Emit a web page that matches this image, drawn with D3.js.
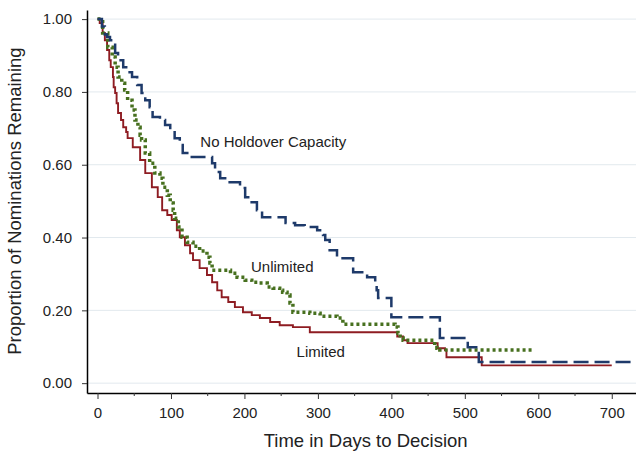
<!DOCTYPE html>
<html>
<head>
<meta charset="utf-8">
<script src="https://cdn.jsdelivr.net/npm/d3@7"></script>
<style>
  body { margin: 0; background: #fff; }
  svg { display: block; font-family: "Liberation Sans", Arial, sans-serif; }
</style>
</head>
<body>
<div id="chart"></div>
<script>
// Kaplan-Meier style curves (days, proportion remaining)
var limitedDays = [0, 3, 7, 10, 13, 16, 18, 21, 22, 24, 26, 28, 32, 35, 39, 41, 48, 58, 65, 74, 82, 88, 95, 101, 108, 112, 119, 126, 130, 139, 149, 156, 163, 169, 178, 187, 198, 210, 221, 235, 248, 266, 289, 408, 416, 422, 463, 473, 475, 523, 700];
var limitedSurv = [1.0, 0.989, 0.962, 0.942, 0.915, 0.887, 0.868, 0.841, 0.813, 0.797, 0.769, 0.742, 0.723, 0.703, 0.690, 0.673, 0.648, 0.613, 0.577, 0.538, 0.511, 0.475, 0.462, 0.448, 0.420, 0.401, 0.379, 0.357, 0.338, 0.316, 0.297, 0.277, 0.255, 0.236, 0.223, 0.209, 0.195, 0.187, 0.179, 0.168, 0.159, 0.154, 0.140, 0.128, 0.118, 0.110, 0.096, 0.091, 0.071, 0.049, 0.049];

var unlimitedDays = [0, 7, 14, 20, 24, 28, 33, 37, 41, 47, 51, 55, 58, 60, 65, 71, 78, 85, 89, 95, 99, 103, 105, 110, 115, 122, 130, 139, 149, 153, 156, 181, 190, 201, 210, 218, 231, 239, 248, 252, 258, 262, 266, 289, 303, 326, 334, 405, 409, 412, 416, 459, 462, 466, 593];
var unlimitedSurv = [1.0, 0.962, 0.923, 0.896, 0.868, 0.841, 0.824, 0.805, 0.777, 0.750, 0.723, 0.703, 0.681, 0.668, 0.632, 0.604, 0.577, 0.563, 0.538, 0.516, 0.495, 0.475, 0.453, 0.429, 0.401, 0.387, 0.376, 0.363, 0.346, 0.330, 0.310, 0.302, 0.291, 0.283, 0.277, 0.275, 0.264, 0.261, 0.255, 0.250, 0.242, 0.220, 0.195, 0.192, 0.184, 0.179, 0.162, 0.154, 0.137, 0.124, 0.118, 0.104, 0.096, 0.091, 0.091];

var noHoldDays = [0, 6, 10, 13, 17, 21, 24, 28, 35, 41, 47, 54, 60, 65, 71, 75, 85, 92, 99, 105, 112, 116, 126, 156, 160, 167, 176, 194, 201, 207, 217, 224, 256, 269, 282, 299, 307, 310, 316, 326, 348, 367, 378, 380, 382, 400, 466, 504, 519, 727];
var noHoldSurv = [1.0, 0.980, 0.958, 0.951, 0.942, 0.934, 0.907, 0.887, 0.868, 0.854, 0.841, 0.819, 0.797, 0.777, 0.758, 0.731, 0.723, 0.709, 0.695, 0.673, 0.654, 0.632, 0.621, 0.604, 0.580, 0.563, 0.552, 0.536, 0.511, 0.497, 0.475, 0.456, 0.440, 0.434, 0.429, 0.420, 0.407, 0.393, 0.365, 0.343, 0.305, 0.291, 0.277, 0.255, 0.234, 0.181, 0.124, 0.099, 0.058, 0.058];

var yTicks = [0, 0.2, 0.4, 0.6, 0.8, 1.0];
var xTicks = [0, 100, 200, 300, 400, 500, 600, 700];
var xMinorTicks = [50, 150, 250, 350, 450, 550, 650];

function toPoints(days, surv) {
    return days.map(function(d, i) { return { t: d, p: surv[i] }; });
}

var series = [
    { name: "Limited", data: toPoints(limitedDays, limitedSurv), color: "#8e1c22", width: 1.9, dash: null },
    { name: "Unlimited", data: toPoints(unlimitedDays, unlimitedSurv), color: "#47701f", width: 3.5, dash: "3,3" },
    { name: "No Holdover Capacity", data: toPoints(noHoldDays, noHoldSurv), color: "#1e3a6a", width: 2.5, dash: "15,6" }
];

// Set Dimension
var margin = {top: 10, right: 0, bottom: 64, left: 87},
    width = 636 - margin.left - margin.right,
    height = 457 - margin.top - margin.bottom;

var svg = d3.select("#chart")
    .append("svg")
    .attr("width", width + margin.left + margin.right)
    .attr("height", height + margin.top + margin.bottom)
    .append("g")
    .attr("transform", "translate(" + margin.left + "," + margin.top + ")");

var x = d3.scaleLinear().domain([-14.3, 733]).range([0, width]);
var y = d3.scaleLinear().domain([-0.027, 1.025]).range([height, 0]);

// gridlines
svg.selectAll(".grid")
    .data(yTicks)
    .enter()
    .append("line")
    .attr("x1", 0)
    .attr("x2", width)
    .attr("y1", function(d) { return y(d); })
    .attr("y2", function(d) { return y(d); })
    .attr("stroke", "#e2e9ee")
    .attr("stroke-width", 1);

// curves
var line = d3.line()
    .x(function(d) { return x(d.t); })
    .y(function(d) { return y(d.p); })
    .curve(d3.curveStepAfter);

svg.selectAll(".curve")
    .data(series)
    .enter()
    .append("path")
    .attr("d", function(d) { return line(d.data); })
    .attr("fill", "none")
    .attr("stroke", function(d) { return d.color; })
    .attr("stroke-width", function(d) { return d.width; })
    .attr("stroke-dasharray", function(d) { return d.dash; });

// Y axis
var yAxis = svg.append("g")
    .call(d3.axisLeft(y).tickValues(yTicks).tickFormat(d3.format(".2f")).tickSize(5).tickSizeOuter(0).tickPadding(10));
yAxis.select(".domain").attr("stroke", "#000").attr("stroke-width", 1.5);
yAxis.selectAll(".tick line").attr("stroke", "#333");
yAxis.selectAll("text").attr("font-size", "15px").attr("fill", "#222");

// X axis
var xAxis = svg.append("g")
    .attr("transform", "translate(0," + height + ")")
    .call(d3.axisBottom(x).tickValues(xTicks).tickFormat(d3.format("d")).tickSize(6).tickSizeOuter(0).tickPadding(8));
xAxis.select(".domain").attr("stroke", "#000").attr("stroke-width", 1.5);
xAxis.selectAll(".tick line").attr("stroke", "#333");
xAxis.selectAll("text").attr("font-size", "15px").attr("fill", "#222");

svg.append("g")
    .attr("transform", "translate(0," + height + ")")
    .selectAll("line")
    .data(xMinorTicks)
    .enter()
    .append("line")
    .attr("x1", function(d) { return x(d); })
    .attr("x2", function(d) { return x(d); })
    .attr("y1", 0)
    .attr("y2", 3)
    .attr("stroke", "#333");

// axis titles
svg.append("text")
    .attr("x", x(365))
    .attr("y", height + 54)
    .attr("text-anchor", "middle")
    .attr("font-size", "18.5px")
    .attr("fill", "#222")
    .text("Time in Days to Decision");

svg.append("text")
    .attr("transform", "translate(" + (-66) + "," + (y(0.5)) + ") rotate(-90)")
    .attr("text-anchor", "middle")
    .attr("font-size", "18.5px")
    .attr("fill", "#222")
    .text("Proportion of Nominations Remaining");

// curve labels
var labels = [
    { text: "No Holdover Capacity", t: 140, p: 0.649 },
    { text: "Unlimited", t: 209, p: 0.305 },
    { text: "Limited", t: 271, p: 0.072 }
];
svg.selectAll(".lab")
    .data(labels)
    .enter()
    .append("text")
    .attr("x", function(d) { return x(d.t); })
    .attr("y", function(d) { return y(d.p); })
    .attr("font-size", "15px")
    .attr("fill", "#222")
    .text(function(d) { return d.text; });
</script>
</body>
</html>
